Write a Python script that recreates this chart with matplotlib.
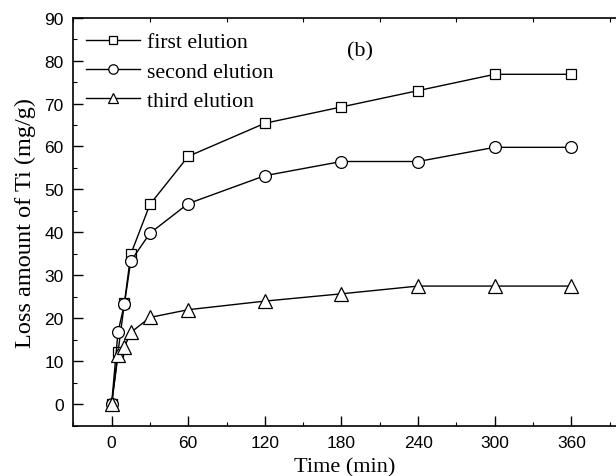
import matplotlib
matplotlib.use("Agg")
import matplotlib.pyplot as plt
from matplotlib.ticker import MultipleLocator

# elution time (min)
time = [0, 5, 10, 15, 30, 60, 120, 180, 240, 300, 360]

# loss amount of Ti (mg/g)
first = [0, 12.1, 23.5, 34.9, 46.5, 57.7, 65.4, 69.2, 73.0, 76.8, 76.8]
second = [0, 16.8, 23.3, 33.3, 39.8, 46.7, 53.2, 56.5, 56.5, 59.8, 59.8]
third = [0, 11.4, 13.3, 16.7, 20.2, 22.0, 24.0, 25.7, 27.5, 27.5, 27.5]

serif = ["Liberation Serif", "DejaVu Serif"]
sans = ["Liberation Sans", "DejaVu Sans"]

fig = plt.figure(figsize=(6.16, 4.77), dpi=100)
ax = fig.add_axes([0.119, 0.1055, 0.881, 0.8555])

kw = dict(color="black", lw=1.0, mfc="white", mec="black", mew=0.9)
ax.plot(time, first, marker="s", ms=7.5, label="first elution", **kw)
ax.plot(time, second, marker="o", ms=8.5, label="second elution", **kw)
ax.plot(time, third, marker="^", ms=9.5, label="third elution", **kw)

ax.set_xlim(-30, 395)
ax.set_ylim(-5, 90)
ax.set_xticks(range(0, 361, 60))
ax.set_yticks(range(0, 91, 10))
ax.xaxis.set_minor_locator(MultipleLocator(30))
ax.yaxis.set_minor_locator(MultipleLocator(5))

ax.tick_params(which="major", direction="in", length=7, width=1.0,
               labelsize=12.5, pad=7)
ax.tick_params(which="minor", direction="in", length=3, width=0.8)
ax.tick_params(which="both", top=True)
ax.tick_params(axis="x", which="major", top=False)
for lab in ax.get_xticklabels() + ax.get_yticklabels():
    lab.set_family(sans)

ax.spines["right"].set_visible(False)
for s in ["left", "bottom", "top"]:
    ax.spines[s].set_linewidth(1.2)

ax.set_xlabel("Time (min)", family=serif, fontsize=16, labelpad=5)
ax.set_ylabel("Loss amount of Ti (mg/g)", family=serif, fontsize=17.5,
              labelpad=6)

ax.text(0.528, 0.918, "(b)", transform=ax.transAxes, family=serif,
        fontsize=16, ha="center", va="center")

ax.legend(loc="upper left", bbox_to_anchor=(0.023, 0.965), frameon=False,
          prop={"family": serif, "size": 15.7}, handlelength=2.5,
          handletextpad=0.3, labelspacing=0.42, borderaxespad=0,
          borderpad=0, markerscale=0.8)

fig.savefig("out.png", dpi=100)
